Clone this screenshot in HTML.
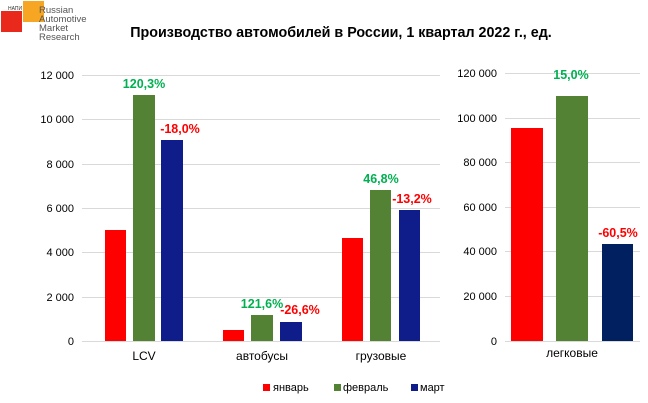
<!DOCTYPE html>
<html><head><meta charset="utf-8"><style>body{margin:0;background:#fff}svg{display:block}</style></head><body>
<svg width="648" height="403" xmlns="http://www.w3.org/2000/svg" font-family="Liberation Sans, sans-serif">
<rect width="648" height="403" fill="#fff"/>
<rect x="1" y="11" width="21" height="21" fill="#e8291c"/>
<rect x="23" y="1" width="21" height="21" fill="#f6a623"/>
<text x="8" y="10" font-size="5" fill="#333">НАПИ</text>
<g font-size="9.5" fill="#555"><text x="39" y="13">Russian</text><text x="39" y="22">Automotive</text><text x="39" y="31">Market</text><text x="39" y="40">Research</text></g>
<text x="341" y="37" font-size="14.3" font-weight="bold" text-anchor="middle" fill="#000">Производство автомобилей в России, 1 квартал 2022 г., ед.</text>
<g stroke="#d9d9d9" stroke-width="1">
<line x1="82" x2="440" y1="75.5" y2="75.5"/><line x1="82" x2="440" y1="119.5" y2="119.5"/><line x1="82" x2="440" y1="164.5" y2="164.5"/><line x1="82" x2="440" y1="208.5" y2="208.5"/><line x1="82" x2="440" y1="252.5" y2="252.5"/><line x1="82" x2="440" y1="297.5" y2="297.5"/><line x1="82" x2="440" y1="341.5" y2="341.5"/>
<line x1="505" x2="640" y1="73.5" y2="73.5"/><line x1="505" x2="640" y1="118.5" y2="118.5"/><line x1="505" x2="640" y1="162.5" y2="162.5"/><line x1="505" x2="640" y1="207.5" y2="207.5"/><line x1="505" x2="640" y1="251.5" y2="251.5"/><line x1="505" x2="640" y1="296.5" y2="296.5"/><line x1="505" x2="640" y1="341.5" y2="341.5"/>
</g>
<g font-size="11" fill="#000" text-anchor="end">
<text x="74" y="79">12 000</text><text x="74" y="123">10 000</text><text x="74" y="168">8 000</text><text x="74" y="212">6 000</text><text x="74" y="256">4 000</text><text x="74" y="301">2 000</text><text x="74" y="345">0</text>
<text x="497" y="77">120 000</text><text x="497" y="122">100 000</text><text x="497" y="166">80 000</text><text x="497" y="211">60 000</text><text x="497" y="255">40 000</text><text x="497" y="300">20 000</text><text x="497" y="345">0</text>
</g>
<g>
<rect x="105" y="230" width="21" height="111" fill="#ff0000"/><rect x="133" y="95" width="22" height="246" fill="#548235"/><rect x="161" y="140" width="22" height="201" fill="#0f1d8a"/>
<rect x="223" y="330" width="21" height="11" fill="#ff0000"/><rect x="251" y="315" width="22" height="26" fill="#548235"/><rect x="280" y="322" width="22" height="19" fill="#0f1d8a"/>
<rect x="342" y="238" width="21" height="103" fill="#ff0000"/><rect x="370" y="190" width="21" height="151" fill="#548235"/><rect x="399" y="210" width="21" height="131" fill="#0f1d8a"/>
<rect x="511" y="128" width="32" height="213" fill="#ff0000"/><rect x="556" y="96" width="32" height="245" fill="#548235"/><rect x="602" y="244" width="31" height="97" fill="#002060"/>
</g>
<g font-size="12.5" font-weight="bold" text-anchor="middle">
<text x="144" y="88" fill="#00b050">120,3%</text><text x="180" y="133" fill="#ff0000">-18,0%</text>
<text x="262" y="308" fill="#00b050">121,6%</text><text x="300" y="314" fill="#ff0000">-26,6%</text>
<text x="381" y="183" fill="#00b050">46,8%</text><text x="412" y="203" fill="#ff0000">-13,2%</text>
<text x="571" y="79" fill="#00b050">15,0%</text><text x="618" y="237" fill="#ff0000">-60,5%</text>
</g>
<g font-size="12" fill="#000" text-anchor="middle">
<text x="144" y="360">LCV</text><text x="262" y="360">автобусы</text><text x="381" y="360">грузовые</text><text x="572" y="357">легковые</text>
</g>
<g font-size="11" fill="#000">
<rect x="263" y="384" width="7" height="7" fill="#ff0000"/><text x="273" y="391">январь</text>
<rect x="334" y="384" width="7" height="7" fill="#548235"/><text x="343" y="391">февраль</text>
<rect x="411" y="384" width="7" height="7" fill="#0f1d8a"/><text x="420" y="391">март</text>
</g>
</svg>
</body></html>
